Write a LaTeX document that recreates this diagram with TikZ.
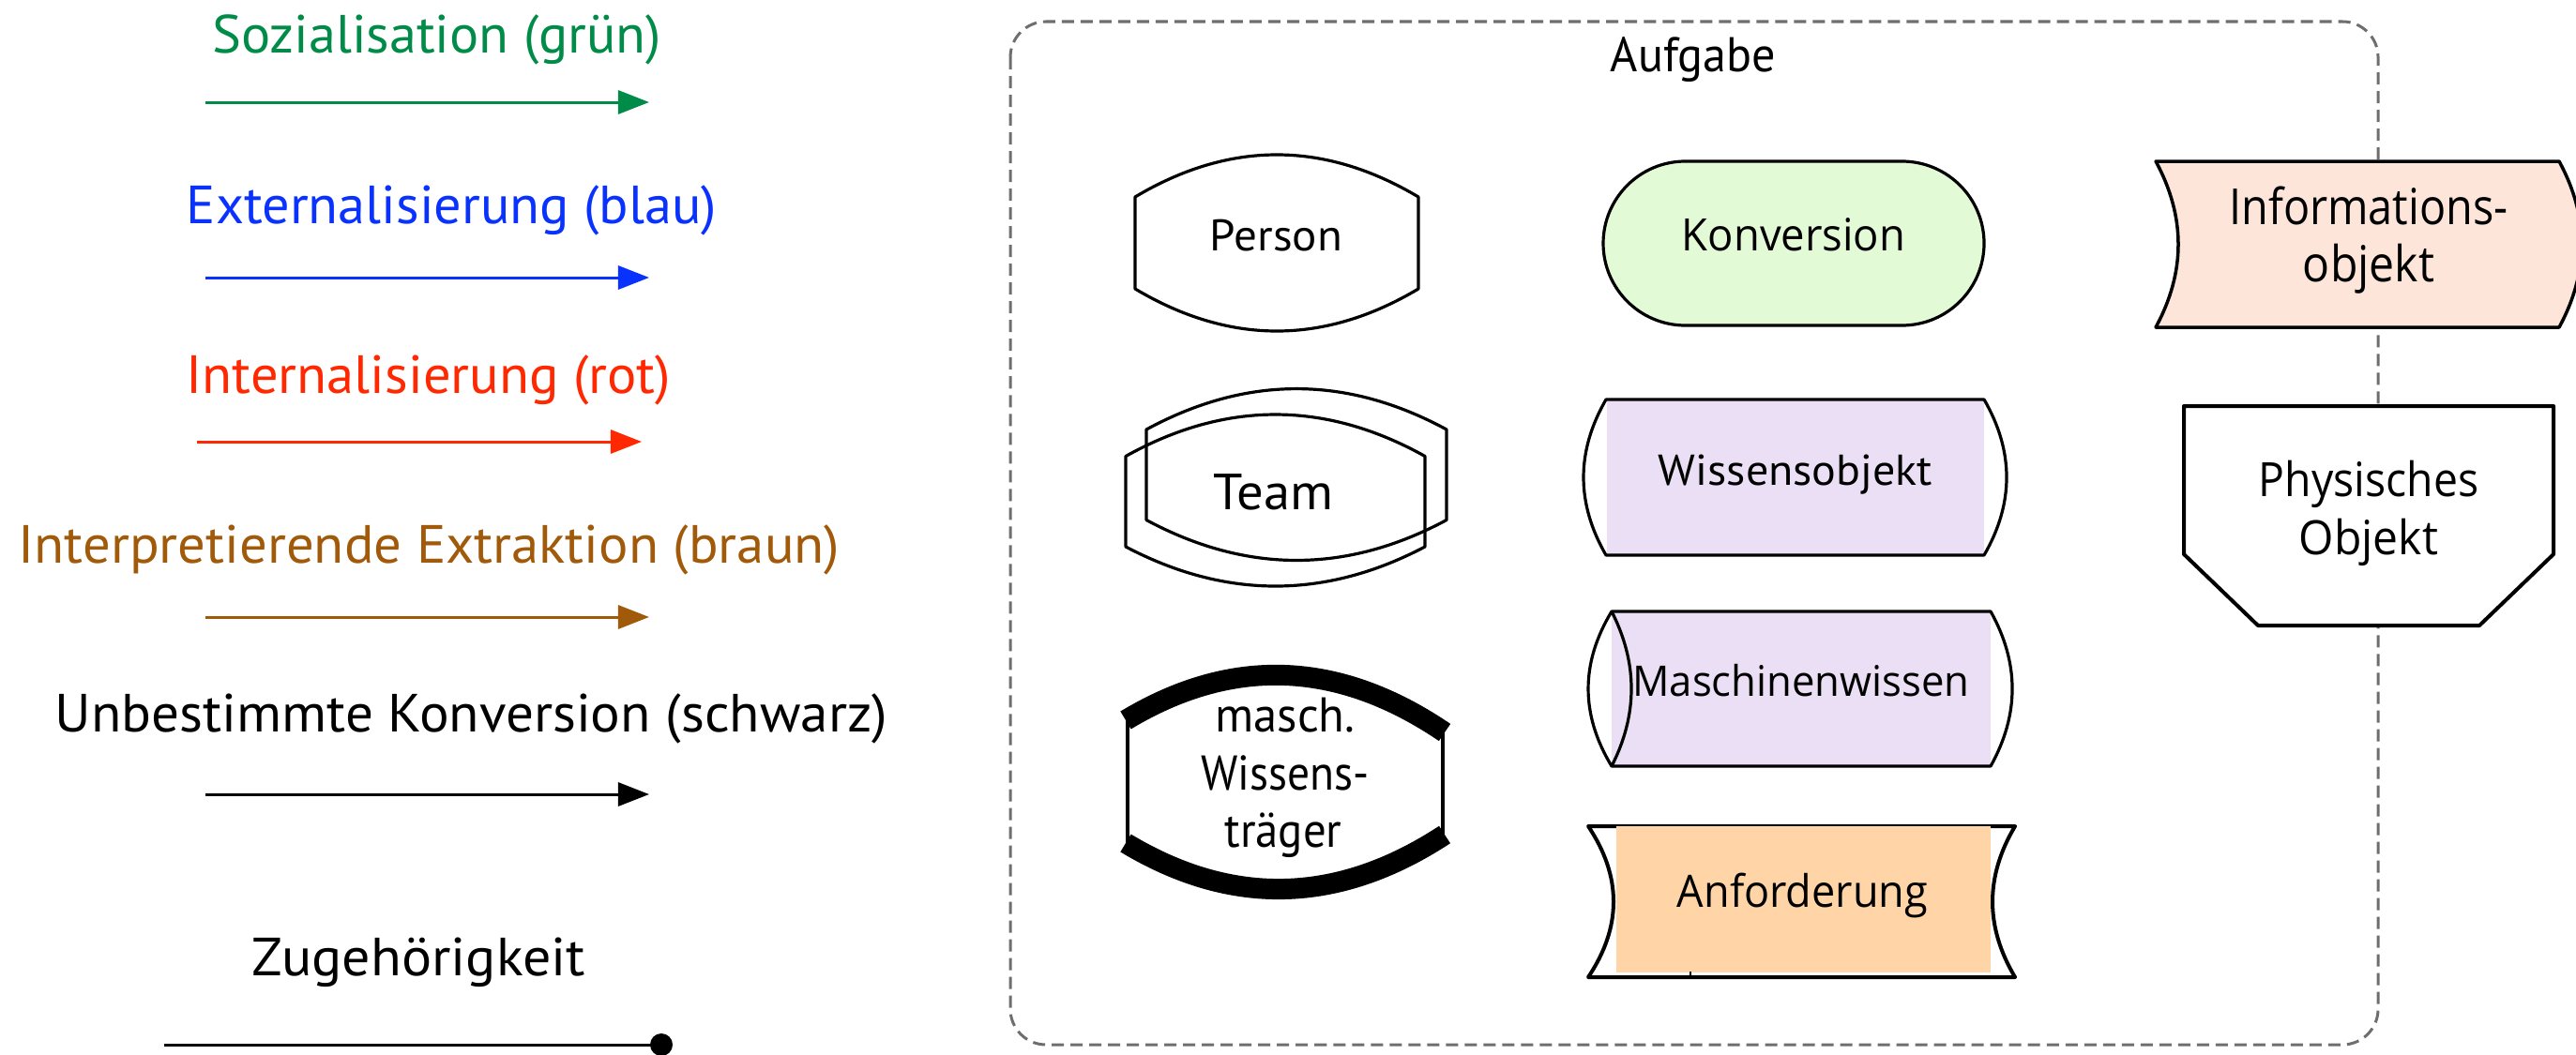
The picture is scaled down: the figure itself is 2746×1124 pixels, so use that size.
\documentclass[tikz,border=0pt]{standalone}
\usepackage{graphicx}
\usepackage{fontspec}
\setmainfont{PT Sans}
\newfontfamily\seg{Open Sans}
\usetikzlibrary{arrows.meta}
\newcommand{\fitw}[2]{\resizebox{#1}{\height}{#2}}
\definecolor{cgreen}{RGB}{0,140,72}
\definecolor{cblue}{RGB}{10,50,255}
\definecolor{cred}{RGB}{255,40,0}
\definecolor{cbrown}{RGB}{160,90,10}
\definecolor{boxgray}{RGB}{110,110,110}
\definecolor{kfill}{RGB}{226,250,214}
\definecolor{wfill}{RGB}{234,223,245}
\definecolor{afill}{RGB}{255,213,168}
\definecolor{ifill}{RGB}{253,229,218}
\begin{document}
\begin{tikzpicture}[x=0.01cm,y=-0.01cm,
  legtext/.style={anchor=base, inner sep=0pt, font=\fontsize{16.3pt}{19pt}\selectfont},
  legarrow/.style={line width=0.03cm, -{Triangle[length=0.33cm,width=0.25cm]}},
  shapeline/.style={line width=0.032cm, line join=round},
  lbl/.style={anchor=base, inner sep=0pt},
]
\useasboundingbox (0,0) rectangle (2746,1124);

% ---------- legend ----------
\node[legtext, text=cgreen] (soz) at (465.5,57) {\fitw{4.78cm}{Sozialisation (grün)}};
\node[legtext, text=cblue] (ext) at (481.5,238) {\fitw{5.65cm}{Externalisierung (blau)}};
\node[legtext, text=cred] (int) at (457,419) {\fitw{5.16cm}{Internalisierung (rot)}};
\node[legtext, text=cbrown] (intp) at (457.5,600) {\fitw{8.75cm}{Interpretierende Extraktion (braun)}};
\node[legtext, text=black] (unb) at (502.5,780) {\fitw{8.87cm}{Unbestimmte Konversion (schwarz)}};
\node[legtext, text=black] (zug) at (446.5,1040) {\fitw{3.55cm}{Zugehörigkeit}};

\coordinate (a1s) at (219,109); \coordinate (a1e) at (692,109);
\coordinate (a2s) at (219,296); \coordinate (a2e) at (692,296);
\coordinate (a3s) at (210,471); \coordinate (a3e) at (684,471);
\coordinate (a4s) at (219,658); \coordinate (a4e) at (692,658);
\coordinate (a5s) at (219,847); \coordinate (a5e) at (692,847);
\coordinate (a6s) at (175,1114);
\draw[legarrow, cgreen] (a1s) -- (a1e);
\draw[legarrow, cblue] (a2s) -- (a2e);
\draw[legarrow, cred] (a3s) -- (a3e);
\draw[legarrow, cbrown] (a4s) -- (a4e);
\draw[legarrow, black] (a5s) -- (a5e);
\node[circle, fill=black, inner sep=0pt, minimum size=0.24cm] (zdot) at (705,1114) {};
\draw[line width=0.03cm] (a6s) -- (zdot.center);

% ---------- task frame ----------
\draw[boxgray, line width=0.03cm, dash pattern=on 0.13cm off 0.07cm, rounded corners=0.38cm] (1077,23) rectangle (2535,1114);
\node[lbl, font=\fontsize{14.8pt}{18pt}\selectfont] (aufg) at (1805,76.5) {\fitw{1.76cm}{Aufgabe}};

% ---------- Person ----------
\draw[shapeline] (1210,210) -- (1210,308) .. controls (1310.7,368) and (1411.3,368) .. (1512,308) -- (1512,210) .. controls (1411.3,150) and (1310.7,150) .. cycle;
\node[lbl, font=\fontsize{13.4pt}{16pt}\selectfont] (person) at (1360.5,267) {\fitw{1.41cm}{Person}};

% ---------- Team ----------
\draw[shapeline] (1222,458) -- (1222,554.5) .. controls (1328.7,611.8) and (1435.3,611.8) .. (1542,554.5) -- (1542,458) .. controls (1435.3,400.1) and (1328.7,400.1) .. cycle;
\draw[shapeline] (1200,486.5) -- (1200,583) .. controls (1306.3,639) and (1412.7,639) .. (1519,583) -- (1519,486.5) .. controls (1412.7,427.2) and (1306.3,427.2) .. cycle;
\node[lbl, font=\fontsize{15.4pt}{18pt}\selectfont] (team) at (1357.5,543) {\fitw{1.27cm}{Team}};

% ---------- masch. Wissenstraeger ----------
\draw[shapeline] (1202,768) -- (1202,899);
\draw[shapeline] (1538,781) -- (1538,890);
\draw[line width=0.22cm] (1200,768) .. controls (1313.3,699.7) and (1426.7,704) .. (1540,781);
\draw[line width=0.22cm] (1200,899) .. controls (1313.3,967.3) and (1426.7,964.3) .. (1540,890);
\node[lbl, font=\fontsize{14.8pt}{18pt}\selectfont] (mw1) at (1370,780) {\fitw{1.49cm}{masch.}};
\node[lbl, font=\fontsize{14.8pt}{18pt}\selectfont] (mw2) at (1370,842) {\fitw{1.79cm}{Wissens-}};
\node[lbl, font=\fontsize{14.8pt}{18pt}\selectfont] (mw3) at (1368,903) {\fitw{1.25cm}{träger}};

% ---------- Konversion ----------
\draw[shapeline, fill=kfill, rounded corners=0.875cm] (1709,172) rectangle (2115,347);
\node[lbl, font=\seg\fontsize{13.55pt}{16pt}\selectfont] (konv) at (1912,267) {\fitw{2.38cm}{Konversion}};

% ---------- Wissensobjekt ----------
\fill[wfill] (1713,426) rectangle (2115,592);
\draw[shapeline] (1712,426) -- (2115,426) .. controls (2147,481.3) and (2147,536.7) .. (2115,592) -- (1712,592) .. controls (1680,536.7) and (1680,481.3) .. cycle;
\node[lbl, font=\fontsize{13.1pt}{16pt}\selectfont] (wobj) at (1914,517) {\fitw{2.92cm}{Wissensobjekt}};

% ---------- Maschinenwissen ----------
\fill[wfill] (1718,652) rectangle (2122,817);
\draw[shapeline] (1718,652) -- (2122,652) .. controls (2152.7,707) and (2152.7,762) .. (2122,817) -- (1718,817) .. controls (1684.7,762) and (1684.7,707) .. cycle;
\draw[shapeline] (1718,652) .. controls (1746,707) and (1746,762) .. (1718,817);
\node[lbl, font=\seg\fontsize{12.8pt}{16pt}\selectfont] (mwis) at (1920,742) {\fitw{3.59cm}{Maschinenwissen}};

% ---------- Anforderung ----------
\draw[line width=0.04cm, line join=round] (1693,881) -- (2148,881) .. controls (2116,934.7) and (2116,988.3) .. (2148,1042) -- (1693,1042) .. controls (1729,988.3) and (1729,934.7) .. cycle;
\fill[afill] (1723,881) rectangle (2122,1037);
\draw[line width=0.02cm] (1802,1036) -- (1802,1042);
\node[lbl, font=\seg\fontsize{13.55pt}{16pt}\selectfont] (anf) at (1921.5,967) {\fitw{2.67cm}{Anforderung}};

% ---------- Informationsobjekt ----------
\draw[line width=0.035cm, fill=ifill, line join=round] (2298,172) -- (2728,172) .. controls (2760,231) and (2760,290) .. (2728,349) -- (2298,349) .. controls (2330,290) and (2330,231) .. cycle;
\node[lbl, font=\seg\fontsize{15.1pt}{18pt}\selectfont] (inf1) at (2525,239) {\fitw{2.97cm}{Informations-}};
\node[lbl, font=\seg\fontsize{15.1pt}{18pt}\selectfont] (inf2) at (2525,300) {\fitw{1.40cm}{objekt}};

% ---------- Physisches Objekt ----------
\draw[line width=0.04cm, fill=white, line join=round] (2328,433) -- (2722,433) -- (2722,591) -- (2643,667) -- (2407,667) -- (2328,591) -- cycle;
\node[lbl, font=\seg\fontsize{14.35pt}{18pt}\selectfont] (phy1) at (2525,529) {\fitw{2.34cm}{Physisches}};
\node[lbl, font=\seg\fontsize{14.35pt}{18pt}\selectfont] (phy2) at (2525,591) {\fitw{1.48cm}{Objekt}};
\end{tikzpicture}
\end{document}
